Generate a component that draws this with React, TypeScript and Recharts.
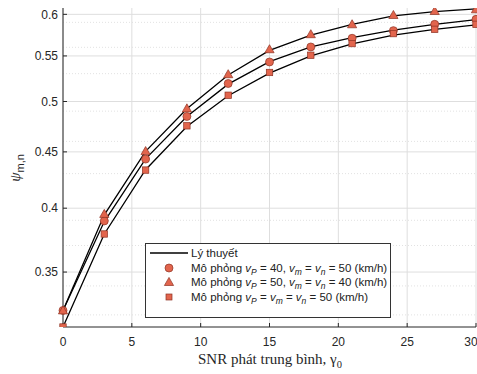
import React from "react";
import { ComposedChart, Line, XAxis, YAxis, CartesianGrid } from "recharts";

// SNR phát trung bình (dB)
const snr = [0, 3, 6, 9, 12, 15, 18, 21, 24, 27, 30];

// Lý thuyết
const theoryA = [0.323, 0.389, 0.4435, 0.4845, 0.5185, 0.5435, 0.5605, 0.5715, 0.5805, 0.5875, 0.5935];
const theoryB = [0.323, 0.3945, 0.4505, 0.4925, 0.5285, 0.5565, 0.5745, 0.5875, 0.598, 0.6035, 0.607];
const theoryC = [0.312, 0.379, 0.4335, 0.4745, 0.506, 0.5305, 0.55, 0.564, 0.5745, 0.5815, 0.587];

// Mô phỏng
const simA = [0.323, 0.3895, 0.4433, 0.4846, 0.5192, 0.5431, 0.5604, 0.5707, 0.5799, 0.5876, 0.5938];
const simB = [0.323, 0.3952, 0.4507, 0.4928, 0.5293, 0.5577, 0.5755, 0.5876, 0.5991, 0.6041, 0.6063];
const simC = [0.312, 0.379, 0.4332, 0.4752, 0.5066, 0.5313, 0.5508, 0.5644, 0.5763, 0.5815, 0.5876];

const xTicks = [0, 5, 10, 15, 20, 25, 30];
const yTicks = [0.35, 0.4, 0.45, 0.5, 0.55, 0.6];
const yMinor = [
  0.32, 0.33, 0.34, 0.36, 0.37, 0.38, 0.39, 0.41, 0.42, 0.43, 0.44, 0.46, 0.47, 0.48, 0.49,
  0.51, 0.52, 0.53, 0.54, 0.56, 0.57, 0.58, 0.59,
];

const rows = snr.map((x, i) => ({
  x,
  tA: theoryA[i],
  tB: theoryB[i],
  tC: theoryC[i],
  sA: simA[i],
  sB: simB[i],
  sC: simC[i],
}));

const MARK_FILL = "#e2654d";
const MARK_EDGE = "#8e3324";
const AXIS = "#262626";
const SANS = "'Liberation Sans', Arial, sans-serif";
const SERIF = "'Liberation Serif', 'Times New Roman', serif";
const yDomain = [0.312, 0.608];

const CircleDot = (p: any) =>
  p.cx == null ? null : (
    <circle key={"c" + p.index} cx={p.cx} cy={p.cy} r={4} fill={MARK_FILL} stroke={MARK_EDGE} strokeWidth={0.7} />
  );

const TriDot = (p: any) => {
  if (p.cx == null) return null;
  const s = 4.6;
  return (
    <polygon
      key={"t" + p.index}
      points={`${p.cx},${p.cy - s} ${p.cx + s},${p.cy + s * 0.75} ${p.cx - s},${p.cy + s * 0.75}`}
      fill={MARK_FILL}
      stroke={MARK_EDGE}
      strokeWidth={0.7}
    />
  );
};

const SquareDot = (p: any) =>
  p.cx == null ? null : (
    <rect key={"s" + p.index} x={p.cx - 3.2} y={p.cy - 3.2} width={6.4} height={6.4} fill={MARK_FILL} stroke={MARK_EDGE} strokeWidth={0.7} />
  );

const XLabel = () => (
  <text x={270} y={364} textAnchor="middle" fontFamily={SERIF} fontSize={15} fill={AXIS}>
    SNR phát trung bình, γ<tspan fontSize={10.5} dy={4}>0</tspan>
  </text>
);

const YLabel = () => (
  <text transform="translate(20,168) rotate(-90)" textAnchor="middle" fill={AXIS}>
    <tspan fontFamily={SERIF} fontStyle="italic" fontSize={15}>ψ</tspan>
    <tspan fontFamily={SANS} fontSize={11} dy={4}>m,n</tspan>
  </text>
);

const Sub = ({ t }: { t: string }) => (
  <span style={{ fontSize: 8.5, fontStyle: "italic", position: "relative", top: 3 }}>{t}</span>
);
const V = () => <i>v</i>;

const legendRows = [
  { kind: "line", label: <>Lý thuyết</> },
  {
    kind: "circle",
    label: (
      <>Mô phỏng <V /><Sub t="P" /> = 40, <V /><Sub t="m" /> = <V /><Sub t="n" /> = 50 (km/h)</>
    ),
  },
  {
    kind: "tri",
    label: (
      <>Mô phỏng <V /><Sub t="P" /> = 50, <V /><Sub t="m" /> = <V /><Sub t="n" /> = 40 (km/h)</>
    ),
  },
  {
    kind: "square",
    label: (
      <>Mô phỏng <V /><Sub t="P" /> = <V /><Sub t="m" /> = <V /><Sub t="n" /> = 50 (km/h)</>
    ),
  },
];

const Symbol = ({ kind }: { kind: string }) => (
  <svg width={42} height={14} style={{ display: "block" }}>
    {kind === "line" && <line x1={4} y1={7} x2={42} y2={7} stroke="#000" strokeWidth={1.3} />}
    {kind === "circle" && <circle cx={23} cy={7} r={4} fill={MARK_FILL} stroke={MARK_EDGE} strokeWidth={0.7} />}
    {kind === "tri" && <polygon points="23,2.4 27.6,10.5 18.4,10.5" fill={MARK_FILL} stroke={MARK_EDGE} strokeWidth={0.7} />}
    {kind === "square" && <rect x={20} y={4} width={6} height={6} fill={MARK_FILL} stroke={MARK_EDGE} strokeWidth={0.7} />}
  </svg>
);

export default function App() {
  return (
    <div style={{ position: "absolute", left: 0, top: 0, width: 477, height: 374, background: "#fff" }}>
      <ComposedChart width={477} height={374} data={rows} margin={{ top: 8, right: 1, bottom: 0, left: 0 }}>
        <CartesianGrid horizontalValues={yMinor} vertical={false} stroke="#e2e2e2" strokeDasharray="1 2" />
        <CartesianGrid horizontalValues={yTicks} verticalValues={xTicks} stroke="#dedede" />
        <XAxis
          dataKey="x"
          type="number"
          domain={[0, 30]}
          ticks={xTicks}
          height={47}
          stroke={AXIS}
          tickSize={-4}
          tickMargin={14}
          tick={{ fontSize: 12, fill: AXIS, fontFamily: SANS }}
          label={<XLabel />}
        />
        <XAxis
          xAxisId="top"
          orientation="top"
          type="number"
          domain={[0, 30]}
          ticks={xTicks}
          height={0}
          stroke={AXIS}
          tickSize={-4}
          tick={false}
        />
        <YAxis
          yAxisId="minorL"
          scale="log"
          domain={yDomain}
          allowDataOverflow
          ticks={yMinor}
          width={0}
          stroke={AXIS}
          tickSize={-2.5}
          tick={false}
        />
        <YAxis
          scale="log"
          domain={yDomain}
          allowDataOverflow
          ticks={yTicks}
          width={63}
          stroke={AXIS}
          tickSize={-4}
          tickMargin={9}
          tick={{ fontSize: 12, fill: AXIS, fontFamily: SANS }}
          label={<YLabel />}
        />
        <YAxis
          yAxisId="right"
          orientation="right"
          scale="log"
          domain={yDomain}
          allowDataOverflow
          ticks={yTicks}
          width={0}
          stroke={AXIS}
          tickSize={-4}
          tick={false}
        />
        <Line dataKey="tA" stroke="#000" strokeWidth={1.3} dot={false} isAnimationActive={false} />
        <Line dataKey="tB" stroke="#000" strokeWidth={1.3} dot={false} isAnimationActive={false} />
        <Line dataKey="tC" stroke="#000" strokeWidth={1.3} dot={false} isAnimationActive={false} />
        <Line dataKey="sA" stroke="none" dot={CircleDot} activeDot={false} isAnimationActive={false} />
        <Line dataKey="sB" stroke="none" dot={TriDot} activeDot={false} isAnimationActive={false} />
        <Line dataKey="sC" stroke="none" dot={SquareDot} activeDot={false} isAnimationActive={false} />
      </ComposedChart>
      <div
        style={{
          position: "absolute",
          left: 145,
          top: 243,
          width: 246,
          height: 75,
          boxSizing: "border-box",
          border: "1px solid #333",
          background: "#fff",
          paddingTop: 2,
          fontFamily: SANS,
          fontSize: 11.5,
          color: "#222",
        }}
      >
        {legendRows.map((r, i) => (
          <div key={i} style={{ display: "flex", alignItems: "center", height: 14.5, whiteSpace: "nowrap" }}>
            <Symbol kind={r.kind} />
            <span style={{ marginLeft: 3 }}>{r.label}</span>
          </div>
        ))}
      </div>
    </div>
  );
}
